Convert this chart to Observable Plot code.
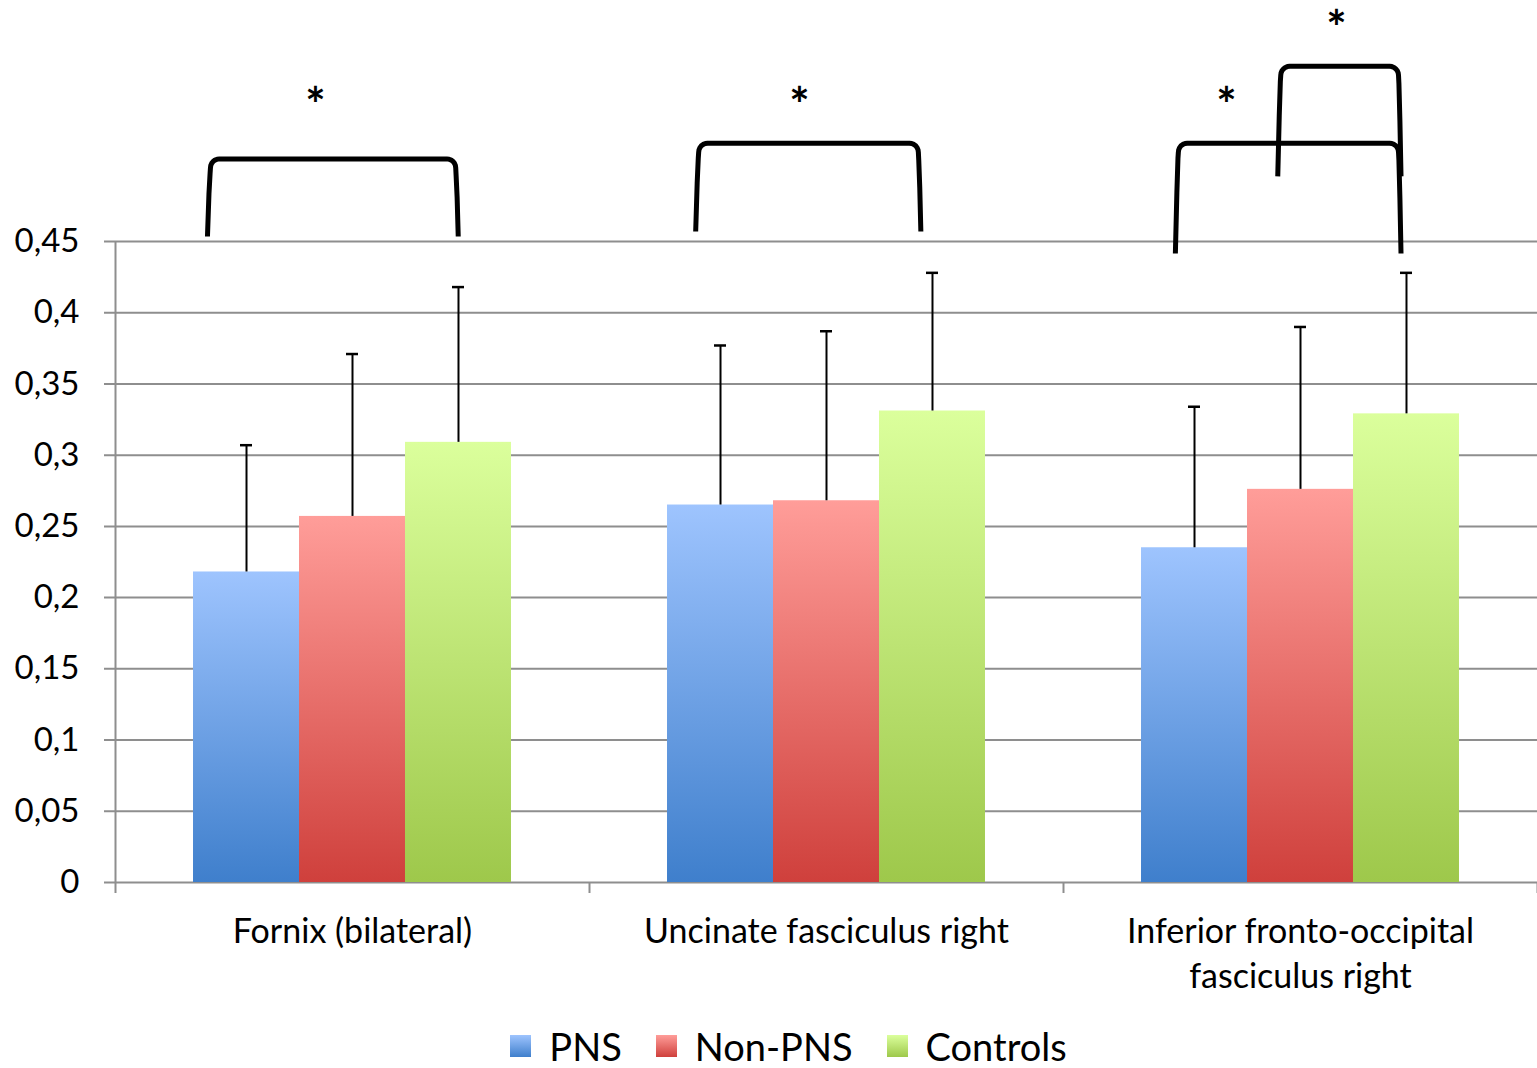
<!DOCTYPE html>
<html>
<head>
<meta charset="utf-8">
<script src="https://cdn.jsdelivr.net/npm/d3@7"></script>
<script src="https://cdn.jsdelivr.net/npm/@observablehq/plot@0.6"></script>
<style>
  html, body { margin: 0; padding: 0; background: #fff; }
  body { width: 1537px; height: 1068px; position: relative; font-family: Lato, "Open Sans", sans-serif; }
  #chart { position: absolute; left: 0; top: 0; }
  #legend { position: absolute; left: 20px; top: 1021px; width: 1537px; height: 50px; display: flex; justify-content: center; align-items: center; font-size: 38px; color: #000; }
  #legend .item { display: flex; align-items: center; margin: 0 17px; }
  #legend .sw { width: 21px; height: 22px; margin-right: 18px; }
</style>
</head>
<body>
<div id="chart"></div>
<div id="legend"></div>
<script>
// ---- data ----
const categories = ["Fornix (bilateral)", "Uncinate fasciculus right", "Inferior fronto-occipital\nfasciculus right"];
const series = ["PNS", "Non-PNS", "Controls"];
const pnsMean      = [0.218, 0.265, 0.235];
const pnsUpper     = [0.307, 0.377, 0.334];
const nonPnsMean   = [0.257, 0.268, 0.276];
const nonPnsUpper  = [0.371, 0.387, 0.390];
const controlsMean = [0.309, 0.331, 0.329];
const controlsUpper= [0.418, 0.428, 0.428];
const yTicks = [0, 0.05, 0.1, 0.15, 0.2, 0.25, 0.3, 0.35, 0.4, 0.45];
const yTickLabels = ["0", "0,05", "0,1", "0,15", "0,2", "0,25", "0,3", "0,35", "0,4", "0,45"];
// significance brackets (x in category units, y in value units)
const bracketLeft   = [0.194, 1.224, 2.236, 2.452];
const bracketRight  = [0.722, 1.698, 2.711, 2.711];
const bracketTop    = [0.508, 0.519, 0.519, 0.573];
const bracketBottom = [0.4535, 0.457, 0.4416, 0.4957];
const starX = [0.422, 1.443, 2.344, 2.576];
const starY = [0.5525, 0.5525, 0.5525, 0.6066];

const means = [pnsMean, nonPnsMean, controlsMean];
const uppers = [pnsUpper, nonPnsUpper, controlsUpper];
const gradTop = ["#9ec4fe", "#ff9d99", "#dbff9c"];
const gradBottom = ["#3f7fcc", "#cf403c", "#9ec84b"];

const inner = d3.scaleBand().domain(series).range([0, 1]).paddingOuter(0.736).paddingInner(0);
const rows = [];
categories.forEach((c, i) => series.forEach((s, j) => {
  rows.push({ci: i, cat: c, s, j, value: means[j][i], top: uppers[j][i],
    x1: i + inner(s), x2: i + inner(s) + inner.bandwidth(), xc: i + inner(s) + inner.bandwidth() / 2});
}));

const W = 1537, H = 1012;
const marginTop = 241, marginBottom = H - 882, marginLeft = 115, marginRight = 0;
const ux = 3 / (W - marginLeft - marginRight);     // value units per pixel, x
const uy = 0.45 / (882 - marginTop);                // value units per pixel, y

// bracket paths (flat top, rounded corners, slightly bowed legs)
const bracketPts = [];
const r = 9, nArc = 6;
bracketLeft.forEach((L, k) => {
  const R = bracketRight[k], T = bracketTop[k], B = bracketBottom[k];
  const P = (dxPx, dyPx, base) => ({id: k, x: base + dxPx * ux, y: T - dyPx * uy});
  const legH = (T - B) / uy;
  bracketPts.push({id: k, x: L, y: B});
  bracketPts.push(P(1.5, legH * 0.45, L));
  bracketPts.push(P(2.6, r + 6, L));
  for (let a = 0; a <= nArc; a++) {
    const t = Math.PI + (a / nArc) * Math.PI / 2;
    bracketPts.push(P(3 + r + r * Math.cos(t), r + r * Math.sin(t), L));
  }
  for (let a = 0; a <= nArc; a++) {
    const t = -Math.PI / 2 + (a / nArc) * Math.PI / 2;
    bracketPts.push(P(-2 - r + r * Math.cos(t), r + r * Math.sin(t), R));
  }
  bracketPts.push(P(-1.6, r + 8, R));
  bracketPts.push(P(-0.6, legH * 0.5, R));
  bracketPts.push({id: k, x: R + 0.5 * ux, y: B});
});
const stars = starX.map((x, k) => ({x, y: starY[k]}));

const marks = [
  Plot.ruleY(yTicks, {y: d => d, x1: -11 * ux, x2: 3, stroke: "#8e8e8e", strokeWidth: 2}),
  Plot.ruleX([0, 1, 2, 3], {x: d => d, y1: -11 * uy, y2: d => d === 0 ? 0.45 : 0, stroke: "#8e8e8e", strokeWidth: 2}),
  Plot.text(yTicks, {x: 0, y: d => d, text: (d, i) => yTickLabels[i], textAnchor: "end", dx: -36, fontSize: 33, fill: "#000"}),
];
series.forEach((s, j) => {
  marks.push(Plot.rectY(rows.filter(r => r.j === j), {x1: "x1", x2: "x2", y1: 0, y2: "value", fill: `url(#grad${j})`, inset: 0}));
});
marks.push(
  Plot.ruleX(rows, {x: "xc", y1: "value", y2: "top", stroke: "#000", strokeWidth: 2}),
  Plot.ruleY(rows, {y: "top", x1: d => d.xc - 6 * ux, x2: d => d.xc + 6 * ux, stroke: "#000", strokeWidth: 2.5}),
  Plot.text(categories, {x: (d, i) => i + 0.5, y: 0, text: d => d, lineAnchor: "top", dy: 28, fontSize: 34, lineHeight: 1.33, fill: "#000"}),
  Plot.line(bracketPts, {x: "x", y: "y", z: "id", curve: "linear", stroke: "#000", strokeWidth: 5, strokeLinecap: "butt", strokeLinejoin: "round"}),
  Plot.text(stars, {x: "x", y: "y", text: () => "*", fontSize: 48, fontWeight: "bold", fill: "#000", dy: 11})
);

const plot = Plot.plot({
  width: W, height: H,
  marginTop, marginBottom, marginLeft, marginRight,
  style: {fontFamily: "Lato, 'Open Sans', sans-serif", background: "#fff", overflow: "visible"},
  x: {type: "linear", domain: [0, 3], axis: null},
  y: {domain: [0, 0.45], axis: null},
  marks
});

const defs = d3.select(plot).insert("defs", ":first-child");
series.forEach((s, j) => {
  const g = defs.append("linearGradient").attr("id", `grad${j}`).attr("x1", 0).attr("y1", 0).attr("x2", 0).attr("y2", 1);
  g.append("stop").attr("offset", "0%").attr("stop-color", gradTop[j]);
  g.append("stop").attr("offset", "100%").attr("stop-color", gradBottom[j]);
});
document.getElementById("chart").appendChild(plot);

const legend = d3.select("#legend");
series.forEach((s, j) => {
  const it = legend.append("div").attr("class", "item");
  it.append("div").attr("class", "sw").style("background", `linear-gradient(to bottom, ${gradTop[j]}, ${gradBottom[j]})`);
  it.append("span").text(s);
});
</script>
</body>
</html>
